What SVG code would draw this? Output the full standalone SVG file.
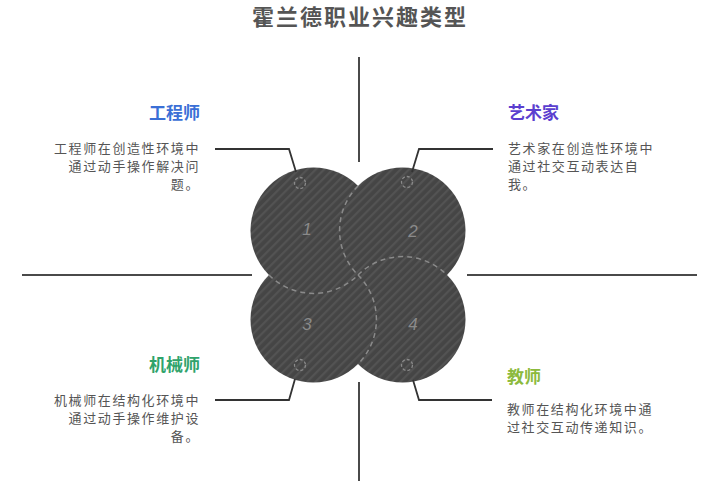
<svg xmlns="http://www.w3.org/2000/svg" width="709" height="481" viewBox="0 0 709 481">
<defs>
<pattern id="stripes" patternUnits="userSpaceOnUse" width="6" height="6" patternTransform="rotate(45)">
<rect width="6" height="6" fill="#454545"/>
<rect width="2.2" height="6" fill="#535353"/>
</pattern>
<style>
.axis{stroke:#4a4a4a;stroke-width:2;fill:none}
.conn{stroke:#333;stroke-width:1.8;fill:none}
.blob{fill:url(#stripes)}
.dash{stroke:#8a8a8a;stroke-width:1.5;stroke-dasharray:5 4;fill:none}
.mark{stroke:#8a8a8a;stroke-width:1.3;stroke-dasharray:3 2;fill:none}
.num{font-family:"Liberation Sans","Noto Sans",sans-serif;font-size:17px;fill:#8a8a8a;font-style:italic;text-anchor:middle}
.title{font-family:"Noto Sans CJK SC",sans-serif;font-size:22px;font-weight:bold;fill:#555;text-anchor:middle;letter-spacing:2px}
.head{font-family:"Noto Sans CJK SC",sans-serif;font-size:17px;font-weight:bold}
.desc{font-family:"Noto Sans CJK SC",sans-serif;font-size:13px;fill:#555;letter-spacing:1.6px}
</style>
</defs>
<rect width="709" height="481" fill="#ffffff"/>
<text class="title" x="360" y="25">霍兰德职业兴趣类型</text>
<g id="axes">
<line class="axis" x1="359" y1="57" x2="359" y2="162"/>
<line class="axis" x1="359" y1="382" x2="359" y2="481"/>
<line class="axis" x1="22" y1="275" x2="252" y2="275"/>
<line class="axis" x1="467" y1="275" x2="697" y2="275"/>
</g>
<g id="circles">
<circle id="c1" class="blob" cx="313.5" cy="230.5" r="63"/>
<circle id="c2" class="blob" cx="402.5" cy="230.5" r="63"/>
<circle id="c3" class="blob" cx="313.5" cy="319.5" r="63"/>
<circle id="c4" class="blob" cx="402.5" cy="319.5" r="63"/>
<path class="dash" d="M358,186 A63,63 0 0 0 358,275"/>
<path class="dash" d="M269,275 A63,63 0 0 0 358,275"/>
<path class="dash" d="M358,275 A63,63 0 0 1 358,364"/>
<path class="dash" d="M358,275 A63,63 0 0 1 447,275"/>
<circle class="mark" cx="300" cy="183" r="5.5"/>
<circle class="mark" cx="407" cy="182" r="5.5"/>
<circle class="mark" cx="300" cy="365" r="5.5"/>
<circle class="mark" cx="407" cy="365" r="5.5"/>
<text class="num" x="307" y="235">1</text>
<text class="num" x="413" y="237">2</text>
<text class="num" x="307" y="330">3</text>
<text class="num" x="413" y="330">4</text>
</g>
<g id="connectors">
<path class="conn" d="M215,149 H289 L296,172"/>
<path class="conn" d="M493,149 H419 L412,172"/>
<path class="conn" d="M215,400 H289 L295,379"/>
<path class="conn" d="M492,400 H419 L413,380"/>
</g>
<g id="engineer">
<text class="head" x="200" y="119" text-anchor="end" fill="#3a6fd6">工程师</text>
<text class="desc" text-anchor="end"><tspan x="200" y="153">工程师在创造性环境中</tspan><tspan x="200" y="171">通过动手操作解决问</tspan><tspan x="200" y="189">题。</tspan></text>
</g>
<g id="artist">
<text class="head" x="508" y="119" fill="#5b3fcf">艺术家</text>
<text class="desc"><tspan x="508" y="153">艺术家在创造性环境中</tspan><tspan x="508" y="171">通过社交互动表达自</tspan><tspan x="508" y="189">我。</tspan></text>
</g>
<g id="mechanic">
<text class="head" x="200" y="371" text-anchor="end" fill="#2fa36b">机械师</text>
<text class="desc" text-anchor="end"><tspan x="200" y="405">机械师在结构化环境中</tspan><tspan x="200" y="423">通过动手操作维护设</tspan><tspan x="200" y="441">备。</tspan></text>
</g>
<g id="teacher">
<text class="head" x="507" y="383" fill="#8cba3c">教师</text>
<text class="desc"><tspan x="507" y="414">教师在结构化环境中通</tspan><tspan x="507" y="432">过社交互动传递知识。</tspan></text>
</g>
</svg>
